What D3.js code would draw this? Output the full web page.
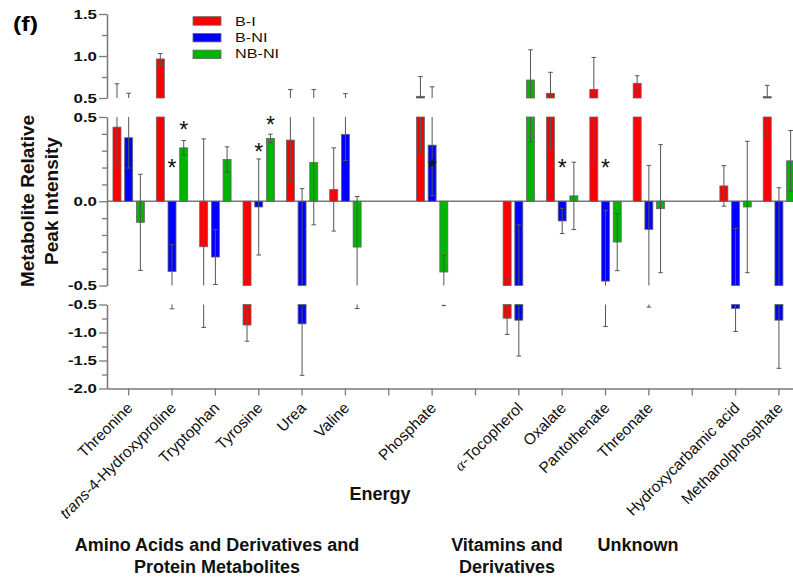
<!DOCTYPE html>
<html>
<head>
<meta charset="utf-8">
<script src="https://cdn.jsdelivr.net/npm/d3@7/dist/d3.min.js"></script>
<style>
body { margin: 0; background: #fff; }
svg { display: block; font-family: "Liberation Sans", Arial, sans-serif; }
</style>
</head>
<body>
<div id="chart"></div>
<script>
/* metabolites on the x axis, empty strings are the gaps between groups */
var categories = ["Threonine", "trans-4-Hydroxyproline", "Tryptophan", "Tyrosine", "Urea", "Valine", "",
    "Phosphate", "", "α-Tocopherol", "Oxalate", "Pantothenate", "Threonate", "",
    "Hydroxycarbamic acid", "Methanolphosphate"];
var seriesNames = ["B-I", "B-NI", "NB-NI"];
var seriesColors = ["#ff0000", "#0000ff", "#00b400"];

/* mean values and error bars for each series */
var valuesBI    = [0.44, 0.965, -0.27, -0.866, 0.363, 0.07, null, 0.52, null, -0.745, 0.556, 0.603, 0.675, null, 0.091, 0.516];
var errorsBI    = [0.23, 0.065, 0.64, 0.29, 0.238, 0.247, null, 0.235, null, 0.29, 0.25, 0.38, 0.09, null, 0.12, 0.135];
var valuesBNI   = [0.377, -0.417, -0.331, -0.034, -0.845, 0.397, null, 0.333, null, -0.78, -0.117, -0.474, -0.167, null, -0.571, -0.78];
var errorsBNI   = [0.18, 0.16, 0.163, 0.285, 0.92, 0.155, null, 0.30, null, 0.64, 0.075, 0.42, 0.38, null, 0.41, 0.86];
var valuesNBNI  = [-0.125, 0.317, 0.248, 0.373, 0.23, -0.272, null, -0.42, null, 0.714, 0.032, -0.242, -0.044, null, -0.034, 0.24];
var errorsNBNI  = [0.285, 0.043, 0.075, 0.025, 0.37, 0.30, null, 0.10, null, 0.36, 0.20, 0.17, 0.38, null, 0.39, 0.18];

/* significance stars: category index, series index, level they sit at */
var starCat    = [1, 1, 3, 3, 7, 10, 11];
var starSeries = [1, 2, 1, 2, 1, 1, 1];
var starLevel  = [0.226, 0.45, 0.32, 0.48, 0.226, 0.226, 0.226];

/* broken y axis: three pieces */
var topTicks = [0.5, 1.0, 1.5], topMinor = [0.75, 1.25];
var midTicks = [-0.5, 0.0, 0.5], midMinor = [-0.4, -0.3, -0.2, -0.1, 0.1, 0.2, 0.3, 0.4];
var botTicks = [-2.0, -1.5, -1.0, -0.5], botMinor = [-1.75, -1.25, -0.75];

var groupLabels = [
    {lines: ["Energy"], x: 380, y: 500},
    {lines: ["Amino Acids and Derivatives and", "Protein Metabolites"], x: 217, y: 551},
    {lines: ["Vitamins and", "Derivatives"], x: 507, y: 551},
    {lines: ["Unknown"], x: 638, y: 551}
];

var width = 793, height = 579;
var axisX = 107, axisY = 388.5;
var axisColor = "#7a7a7a";

var svg = d3.select("#chart").append("svg")
    .attr("width", width)
    .attr("height", height);

var values = [valuesBI, valuesBNI, valuesNBNI];
var errors = [errorsBI, errorsBNI, errorsNBNI];

/*scales*/
var x = d3.scaleBand().domain(d3.range(categories.length)).range([axisX, axisX + 16 * 43.35]);
var xSub = d3.scaleBand().domain([0, 1, 2]).range([-15.7, 15.7]).paddingInner(0.316);

var segments = [
    {scale: d3.scaleLinear().domain([0.5, 1.5]).range([98, 14]), lo: 0.5, hi: 1.5, ticks: topTicks, minor: topMinor},
    {scale: d3.scaleLinear().domain([-0.5, 0.5]).range([285.5, 117]), lo: -0.5, hi: 0.5, ticks: midTicks, minor: midMinor},
    {scale: d3.scaleLinear().domain([-2.0, -0.5]).range([axisY, 304.5]), lo: -2.0, hi: -0.5, ticks: botTicks, minor: botMinor}
];
var yMid = segments[1].scale;

/*flat list of bars*/
var items = [];
categories.forEach(function (c, i) {
    values.forEach(function (arr, s) {
        if (arr[i] !== null) items.push({i: i, s: s, v: arr[i], e: errors[s][i]});
    });
});
function barX(d) { return x(d.i) + x.bandwidth() / 2 + xSub(d.s); }
function barC(d) { return barX(d) + xSub.bandwidth() / 2; }

var fmt = function (d) { return d3.format(".1f")(d).replace("\u2212", "-"); };

/*y axis pieces*/
segments.forEach(function (seg) {
    var g = svg.append("g").attr("transform", "translate(" + axisX + ",0)");
    g.call(d3.axisLeft(seg.scale).tickValues(seg.minor).tickSize(5).tickSizeOuter(0).tickFormat(""));
    var major = svg.append("g").attr("transform", "translate(" + axisX + ",0)")
        .call(d3.axisLeft(seg.scale).tickValues(seg.ticks).tickSize(8).tickSizeOuter(0).tickFormat(fmt));
    major.selectAll("text")
        .attr("x", -10 / 1.35)
        .attr("transform", "scale(1.35,1)")
        .style("font-size", "12.5px")
        .style("font-weight", "bold")
        .style("font-family", "'Liberation Sans', Arial, sans-serif")
        .attr("fill", "#111");
    [g, major].forEach(function (a) {
        a.selectAll("path, line").attr("stroke", axisColor).attr("stroke-width", 1.3);
    });
});

/*zero line*/
svg.append("line")
    .attr("x1", axisX).attr("x2", width)
    .attr("y1", yMid(0)).attr("y2", yMid(0))
    .attr("stroke", axisColor).attr("stroke-width", 1.3);

/*x axis*/
var xAxis = svg.append("g")
    .attr("transform", "translate(0," + axisY + ")")
    .call(d3.axisBottom(x).tickSize(7).tickSizeOuter(0).tickFormat(""));
xAxis.selectAll("path, line").attr("stroke", axisColor).attr("stroke-width", 1.3);

/*x tick labels*/
categories.forEach(function (c, i) {
    if (!c) return;
    var t = svg.append("text")
        .attr("transform", "translate(" + (x(i) + x.bandwidth() / 2 + 5) + ",409) rotate(-45)")
        .attr("text-anchor", "end")
        .style("font-size", "15.5px")
        .attr("fill", "#111");
    var m = c.match(/^(trans|α)(.*)$/);
    if (m) {
        t.append("tspan").style("font-style", "italic")
            .style("font-family", m[1] === "α" ? "'Liberation Serif', serif" : null)
            .text(m[1]);
        t.append("tspan").text(m[2]);
    } else {
        t.text(c);
    }
});

/*bars and error bars in each piece of the axis*/
segments.forEach(function (seg, k) {
    var y = seg.scale;
    var inBar = items.map(function (d) {
        var a = Math.max(Math.min(0, d.v), seg.lo), b = Math.min(Math.max(0, d.v), seg.hi);
        return {d: d, a: a, b: b};
    }).filter(function (r) { return r.b > r.a; });

    svg.append("g").selectAll("rect")
        .data(inBar)
        .join("rect")
        .attr("x", function (r) { return barX(r.d); })
        .attr("width", xSub.bandwidth())
        .attr("y", function (r) { return y(r.b); })
        .attr("height", function (r) { return y(r.a) - y(r.b); })
        .attr("fill", function (r) { return seriesColors[r.d.s]; })
        .attr("stroke", "#666")
        .attr("stroke-width", 0.8);

    var inErr = items.map(function (d) {
        var lo = d.v - d.e, hi = d.v + d.e;
        return {d: d, a: Math.max(lo, seg.lo), b: Math.min(hi, seg.hi),
            capLo: lo >= seg.lo && lo <= seg.hi, capHi: hi >= seg.lo && hi <= seg.hi};
    }).filter(function (r) { return r.b > r.a; });

    var eg = svg.append("g").attr("stroke", "#555").attr("stroke-width", 1);
    eg.selectAll("line.err")
        .data(inErr)
        .join("line")
        .attr("class", "err")
        .attr("x1", function (r) { return barC(r.d); })
        .attr("x2", function (r) { return barC(r.d); })
        .attr("y1", function (r) { return y(r.a); })
        .attr("y2", function (r) { return y(r.b); });
    eg.selectAll("line.capHi")
        .data(inErr.filter(function (r) { return r.capHi; }))
        .join("line")
        .attr("class", "capHi")
        .attr("x1", function (r) { return barC(r.d) - 2.3; })
        .attr("x2", function (r) { return barC(r.d) + 2.3; })
        .attr("y1", function (r) { return y(r.b); })
        .attr("y2", function (r) { return y(r.b); });
    eg.selectAll("line.capLo")
        .data(inErr.filter(function (r) { return r.capLo; }))
        .join("line")
        .attr("class", "capLo")
        .attr("x1", function (r) { return barC(r.d) - 2.3; })
        .attr("x2", function (r) { return barC(r.d) + 2.3; })
        .attr("y1", function (r) { return y(r.a); })
        .attr("y2", function (r) { return y(r.a); });
});

/*significance stars*/
svg.append("g").selectAll("text")
    .data(starCat.map(function (c, j) { return {i: c, s: starSeries[j], level: starLevel[j]}; }))
    .join("text")
    .attr("x", function (d) { return barC(d); })
    .attr("y", function (d) { return yMid(d.level) + 13; })
    .attr("text-anchor", "middle")
    .style("font-size", "23px")
    .attr("fill", "#111")
    .text("*");

/*legend*/
var legend = svg.append("g");
seriesNames.forEach(function (n, s) {
    legend.append("rect")
        .attr("x", 193).attr("y", 16.7 + s * 16.7)
        .attr("width", 28).attr("height", 8.5)
        .attr("fill", seriesColors[s])
        .attr("stroke", "#666").attr("stroke-width", 0.8);
    legend.append("text")
        .attr("transform", "translate(235," + (26 + s * 16.1) + ") scale(1.35,1)")
        .style("font-size", "12px")
        .attr("fill", "#111")
        .text(n);
});

/*panel letter*/
svg.append("text")
    .attr("transform", "translate(13,31) scale(1.25,1)")
    .style("font-size", "20px")
    .style("font-weight", "bold")
    .text("(f)");

/*y title*/
var yTitle = svg.append("text")
    .attr("transform", "translate(0,201) rotate(-90)")
    .attr("text-anchor", "middle")
    .style("font-size", "19px")
    .style("font-weight", "bold")
    .attr("fill", "#111");
yTitle.append("tspan").attr("x", 0).attr("y", 34).text("Metabolite Relative");
yTitle.append("tspan").attr("x", 0).attr("y", 58).text("Peak Intensity");

/*group labels*/
groupLabels.forEach(function (gl) {
    gl.lines.forEach(function (line, j) {
        svg.append("text")
            .attr("x", gl.x)
            .attr("y", gl.y + j * 22)
            .attr("text-anchor", "middle")
            .style("font-size", "18px")
            .style("font-weight", "bold")
            .attr("fill", "#111")
            .text(line);
    });
});
</script>
</body>
</html>
